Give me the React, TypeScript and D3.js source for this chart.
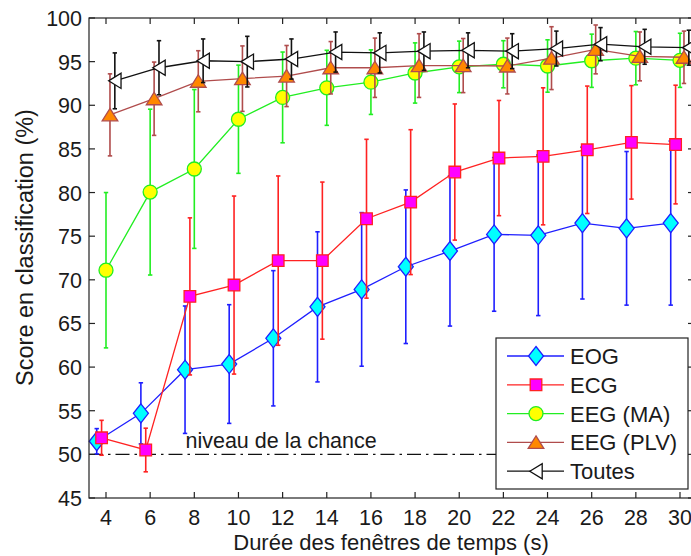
import React from "react";
import * as d3 from "d3";

const durations = [4, 6, 8, 10, 12, 14, 16, 18, 20, 22, 24, 26, 28, 30];
const yTicks = [45, 50, 55, 60, 65, 70, 75, 80, 85, 90, 95, 100];

const eog = [51.5, 54.7, 59.7, 60.35, 63.3, 66.9, 68.9, 71.5, 73.3, 75.2, 75.1, 76.5, 75.9, 76.5];
const eogErr = [1.45, 3.5, 7.3, 6.8, 7.75, 8.6, 8.8, 8.8, 8.6, 8.8, 9.2, 8.7, 8.8, 9.4];
const ecg = [51.9, 50.5, 68.1, 69.4, 72.2, 72.2, 77.0, 78.9, 82.35, 83.95, 84.15, 84.9, 85.75, 85.5];
const ecgErr = [2.0, 2.5, 9.0, 10.2, 9.7, 9.0, 9.1, 8.3, 7.8, 6.6, 7.85, 7.3, 6.5, 6.8];
const eegMA = [71.1, 80.05, 82.7, 88.4, 90.9, 92.0, 92.65, 93.7, 94.4, 94.7, 94.5, 95.1, 95.4, 95.15];
const eegMAErr = [8.9, 9.5, 9.1, 6.2, 5.2, 4.3, 3.7, 3.45, 2.95, 2.7, 3.0, 3.05, 3.05, 3.1];
const eegPLV = [88.9, 90.75, 92.75, 93.05, 93.35, 94.3, 94.3, 94.55, 94.55, 94.5, 95.4, 96.4, 95.6, 95.5];
const eegPLVErr = [4.7, 4.2, 3.5, 3.75, 3.5, 3.0, 3.4, 3.65, 3.1, 3.2, 3.6, 2.8, 2.8, 3.0];
const toutes = [92.8, 94.3, 95.1, 95.0, 95.3, 96.1, 96.0, 96.2, 96.3, 96.2, 96.5, 97.0, 96.7, 96.6];
const toutesErr = [3.2, 3.1, 2.5, 2.9, 2.3, 2.3, 2.3, 2.2, 2.0, 2.0, 2.0, 1.9, 2.0, 2.0];

const seriesNames = ["EOG", "ECG", "EEG (MA)", "EEG (PLV)", "Toutes"];
const chanceLevel = 50;

type Marker = "diamond" | "square" | "circle" | "triUp" | "triLeft";
type Series = { name: string; values: number[]; errs: number[]; dx: number; line: string; fill: string; edge: string; marker: Marker };

const series: Series[] = [
  { name: seriesNames[0], values: eog, errs: eogErr, dx: -0.42, line: "#1f1fff", fill: "#00ffff", edge: "#1f1fff", marker: "diamond" },
  { name: seriesNames[1], values: ecg, errs: ecgErr, dx: -0.2, line: "#ff2222", fill: "#ff00ff", edge: "#ff2222", marker: "square" },
  { name: seriesNames[2], values: eegMA, errs: eegMAErr, dx: 0, line: "#22ee22", fill: "#ffff00", edge: "#22ee22", marker: "circle" },
  { name: seriesNames[3], values: eegPLV, errs: eegPLVErr, dx: 0.18, line: "#b04c4c", fill: "#ff8800", edge: "#b04c4c", marker: "triUp" },
  { name: seriesNames[4], values: toutes, errs: toutesErr, dx: 0.4, line: "#111111", fill: "#ffffff", edge: "#111111", marker: "triLeft" },
];

function markerPath(m: Marker): string {
  switch (m) {
    case "diamond":
      return "M0,-9.5L7.5,0L0,9.5L-7.5,0Z";
    case "square":
      return "M-5.8,-5.8H5.8V5.8H-5.8Z";
    case "circle":
      return "M7,0A7,7 0 1,1 -7,0A7,7 0 1,1 7,0Z";
    case "triUp":
      return "M0,-6.5L7.8,6L-7.8,6Z";
    case "triLeft":
      return "M-6.2,0L6.2,-7.6L6.2,7.6Z";
  }
}

const FONT = "'Liberation Sans', Arial, Helvetica, sans-serif";

export default function App() {
  const W = 691;
  const H = 556;
  const left = 89;
  const right = 694;
  const top = 18;
  const bottom = 498;

  const x = d3.scaleLinear().domain([4, 30]).range([106, 680]);
  const y = d3.scaleLinear().domain([45, 100]).range([bottom, top]);

  const lineGen = d3
    .line<[number, number]>()
    .x((d) => d[0])
    .y((d) => d[1]);

  const tickLen = 6;
  const cap = 2.2;

  const legendX = 496;
  const legendY = 338;
  const legendW = 192;
  const legendH = 151;
  const rowH = 28.8;

  return (
    <svg width={W} height={H} style={{ position: "absolute", left: 0, top: 0, background: "#fff" }} fontFamily={FONT}>
      <rect x={0} y={0} width={W} height={H} fill="#fff" />
      {/* chance level */}
      <line x1={left} x2={right} y1={y(chanceLevel)} y2={y(chanceLevel)} stroke="#111" strokeWidth={1.2} strokeDasharray="14,5,2.5,5" />
      <text x={x(7.6)} y={y(chanceLevel) - 6} fontSize={21.5} fill="#1a1a1a">
        niveau de la chance
      </text>

      {/* series */}
      {series.map((s) => {
        const pts: [number, number][] = durations.map((d, i) => [x(d + s.dx), y(s.values[i])]);
        return (
          <g key={s.name}>
            {durations.map((d, i) => {
              const cx = x(d + s.dx);
              const y1 = y(s.values[i] + s.errs[i]);
              const y2 = y(s.values[i] - s.errs[i]);
              return (
                <g key={i} stroke={s.line} strokeWidth={1.6}>
                  <line x1={cx} x2={cx} y1={y1} y2={y2} />
                  <line x1={cx - cap} x2={cx + cap} y1={y1} y2={y1} />
                  <line x1={cx - cap} x2={cx + cap} y1={y2} y2={y2} />
                </g>
              );
            })}
            <path d={lineGen(pts) || ""} fill="none" stroke={s.line} strokeWidth={1.3} />
            {pts.map((p, i) => (
              <path key={i} d={markerPath(s.marker)} transform={`translate(${p[0]},${p[1]})`} fill={s.fill} stroke={s.edge} strokeWidth={1.3} />
            ))}
          </g>
        );
      })}

      {/* axes frame */}
      <rect x={left} y={top} width={right - left} height={bottom - top} fill="none" stroke="#222" strokeWidth={1.2} />
      {durations.map((d) => (
        <g key={d} stroke="#222" strokeWidth={1.2}>
          <line x1={x(d)} x2={x(d)} y1={bottom} y2={bottom - tickLen} />
          <line x1={x(d)} x2={x(d)} y1={top} y2={top + tickLen} />
        </g>
      ))}
      {yTicks.map((t) => (
        <g key={t} stroke="#222" strokeWidth={1.2}>
          <line x1={left} x2={left + tickLen} y1={y(t)} y2={y(t)} />
          <line x1={right} x2={right - tickLen} y1={y(t)} y2={y(t)} />
        </g>
      ))}
      {durations.map((d) => (
        <text key={d} x={x(d)} y={bottom + 27} textAnchor="middle" fontSize={21.5} fill="#1a1a1a">
          {d}
        </text>
      ))}
      {yTicks.map((t) => (
        <text key={t} x={left - 7} y={y(t) + 8} textAnchor="end" fontSize={21.5} fill="#1a1a1a">
          {t}
        </text>
      ))}
      <text x={391} y={550} textAnchor="middle" fontSize={22} fill="#1a1a1a">
        Durée des fenêtres de temps (s)
      </text>
      <text transform={`translate(33,${(107 + 388) / 2}) rotate(-90)`} textAnchor="middle" fontSize={23.5} fill="#1a1a1a">
        Score en classification (%)
      </text>

      {/* legend */}
      <rect x={legendX} y={legendY} width={legendW} height={legendH} fill="#fff" stroke="#222" strokeWidth={1.2} />
      {series.map((s, i) => {
        const cy = legendY + 18 + i * rowH;
        return (
          <g key={s.name}>
            <line x1={legendX + 11} x2={legendX + 68} y1={cy} y2={cy} stroke={s.line} strokeWidth={1.3} />
            <path d={markerPath(s.marker)} transform={`translate(${legendX + 40},${cy})`} fill={s.fill} stroke={s.edge} strokeWidth={1.3} />
            <text x={legendX + 74} y={cy + 8} fontSize={22} fill="#1a1a1a">
              {s.name}
            </text>
          </g>
        );
      })}
    </svg>
  );
}
